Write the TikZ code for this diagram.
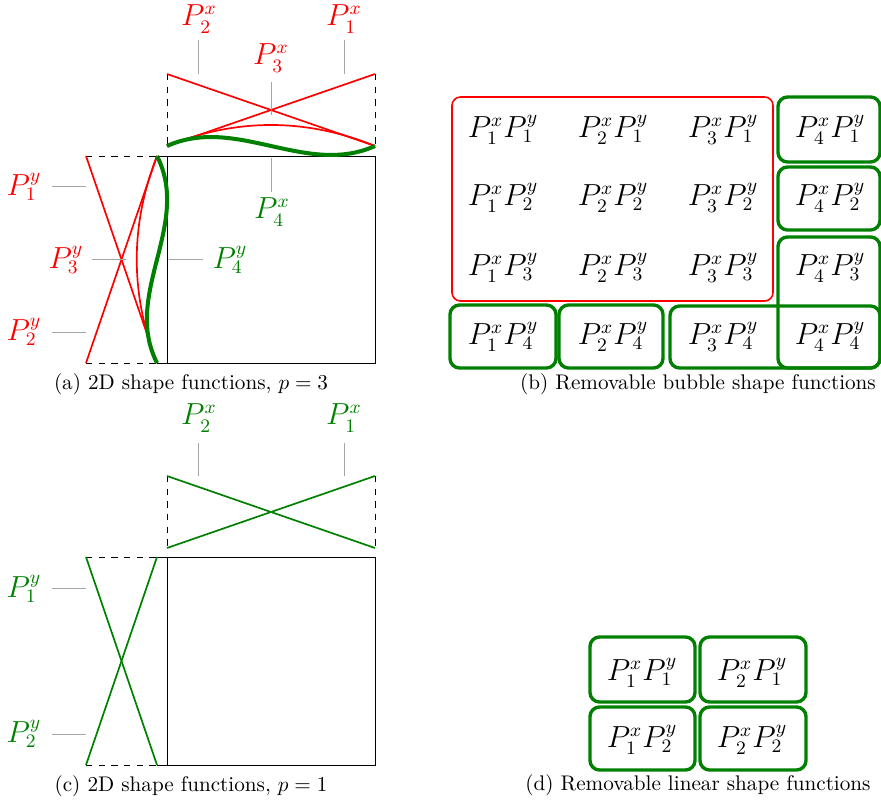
\documentclass[tikz,border=0pt]{standalone}
\definecolor{dgreen}{RGB}{0,128,0}
\begin{document}
\begin{tikzpicture}[x=0.4725pt,y=-0.4725pt,
 fn/.style={red,line width=0.8pt},
 gfn/.style={dgreen,line width=0.8pt},
 bub/.style={dgreen,line width=1.9pt},
 tickln/.style={gray!70,line width=0.4pt},
 guide/.style={dashed,line width=0.4pt},
 elem/.style={line width=0.4pt},
 lab/.style={font=\fontsize{13.3}{16}\selectfont,inner sep=0pt},
 cell/.style={font=\fontsize{13.3}{16}\selectfont,inner sep=0pt},
 gbox/.style={dgreen,line width=1.6pt,rounded corners=4.5pt},
 rbox/.style={red,line width=0.75pt,rounded corners=4pt},
 captxt/.style={font=\normalsize,inner sep=0pt}]
\path[use as bounding box] (0,0) rectangle (881,802);

% ---------------- (a) ----------------
\draw[elem] (167,156) rectangle (375,363);
\draw[guide] (167,74) -- (167,146) (375,74) -- (375,146);
\draw[guide] (86,156) -- (157,156) (86,363) -- (157,363);
\draw[elem] (157,156) -- (167,156) (157,363) -- (167,363);
% x functions
\draw[fn] (167,74) -- (375,146);
\draw[fn] (167,146) -- (375,74);
\draw[fn] (167,146) .. controls (236,118) and (306,118) .. (375,146);
\draw[bub] (167,146) .. controls (236,115) and (306,177) .. (375,146);
% y functions
\draw[fn] (86,156) -- (157,363);
\draw[fn] (157,156) -- (86,363);
\draw[fn] (157,156) .. controls (130,225) and (130,294) .. (157,363);
\draw[bub] (157,156) .. controls (192,225) and (122,294) .. (157,363);
% labels
\node[lab,red] (ax2) at (199,19) {$P_2^x$};
\node[lab,red] (ax1) at (344,19) {$P_1^x$};
\node[lab,red] (ax3) at (271,58) {$P_3^x$};
\node[lab,dgreen] (ax4) at (272,212) {$P_4^x$};
\node[lab,red] (ay1) at (24,187) {$P_1^y$};
\node[lab,red] (ay3) at (66,260) {$P_3^y$};
\node[lab,red] (ay2) at (24,332) {$P_2^y$};
\node[lab,dgreen] (ay4) at (230,260) {$P_4^y$};
\coordinate (tx2a) at (198,40); \coordinate (tx2b) at (198,74);
\coordinate (tx1a) at (344,40); \coordinate (tx1b) at (344,74);
\coordinate (tx3a) at (271,82); \coordinate (tx3b) at (271,115);
\coordinate (tx4a) at (271,158); \coordinate (tx4b) at (271,192);
\coordinate (ty1a) at (52,186); \coordinate (ty1b) at (86,186);
\coordinate (ty3a) at (92,259); \coordinate (ty3b) at (126,259);
\coordinate (ty2a) at (52,332); \coordinate (ty2b) at (86,332);
\coordinate (ty4a) at (169,259); \coordinate (ty4b) at (203,259);
\draw[tickln] (tx2a) -- (tx2b) (tx1a) -- (tx1b) (tx3a) -- (tx3b) (tx4a) -- (tx4b)
  (ty1a) -- (ty1b) (ty3a) -- (ty3b) (ty2a) -- (ty2b) (ty4a) -- (ty4b);
\node[captxt] (capa) at (191,384) {(a) 2D shape functions, $p=3$};

% ---------------- (c) ----------------
\draw[elem] (167,557) rectangle (375,765);
\draw[guide] (167,476) -- (167,548) (375,476) -- (375,548);
\draw[guide] (86,557) -- (157,557) (86,765) -- (157,765);
\draw[elem] (157,557) -- (167,557) (157,765) -- (167,765);
\draw[gfn] (167,476) -- (375,548);
\draw[gfn] (167,548) -- (375,476);
\draw[gfn] (86,557) -- (157,765);
\draw[gfn] (157,557) -- (86,765);
\node[lab,dgreen] (cx2) at (199,418) {$P_2^x$};
\node[lab,dgreen] (cx1) at (344,418) {$P_1^x$};
\node[lab,dgreen] (cy1) at (24,589) {$P_1^y$};
\node[lab,dgreen] (cy2) at (24,734) {$P_2^y$};
\coordinate (cx2a) at (198,443); \coordinate (cx2b) at (198,476);
\coordinate (cx1a) at (344,443); \coordinate (cx1b) at (344,476);
\coordinate (cy1a) at (52,588); \coordinate (cy1b) at (86,588);
\coordinate (cy2a) at (52,734); \coordinate (cy2b) at (86,734);
\draw[tickln] (cx2a) -- (cx2b) (cx1a) -- (cx1b) (cy1a) -- (cy1b) (cy2a) -- (cy2b);
\node[captxt] (capc) at (191,786) {(c) 2D shape functions, $p=1$};

% ---------------- (b) ----------------
\draw[rbox] (452,97) rectangle (773,301);
\foreach \i/\x in {1/503,2/613,3/723,4/830}{
  \foreach \j/\y in {1/130,2/198,3/268,4/337}{
    \node[cell] (b\i\j) at (\x,\y) {$P_{\i}^{x}P_{\j}^{y}$};
  }
}
\draw[gbox] (778,97) rectangle (880,162);
\draw[gbox] (778,167) rectangle (880,230);
\draw[gbox] (778,237) rectangle (880,368);
\draw[gbox] (670,306) rectangle (880,368);
\draw[gbox] (450,305) rectangle (556,368);
\draw[gbox] (559,305) rectangle (663,368);
\node[captxt] (capb) at (698,384) {(b) Removable bubble shape functions};

% ---------------- (d) ----------------
\foreach \i/\x in {1/642,2/752}{
  \foreach \j/\y in {1/673,2/740}{
    \node[cell] (d\i\j) at (\x,\y) {$P_{\i}^{x}P_{\j}^{y}$};
  }
}
\draw[gbox] (590,637) rectangle (695,702);
\draw[gbox] (700,637) rectangle (806,702);
\draw[gbox] (590,707) rectangle (695,770);
\draw[gbox] (700,707) rectangle (806,770);
\node[captxt] (capd) at (698,785) {(d) Removable linear shape functions};
\end{tikzpicture}
\end{document}
